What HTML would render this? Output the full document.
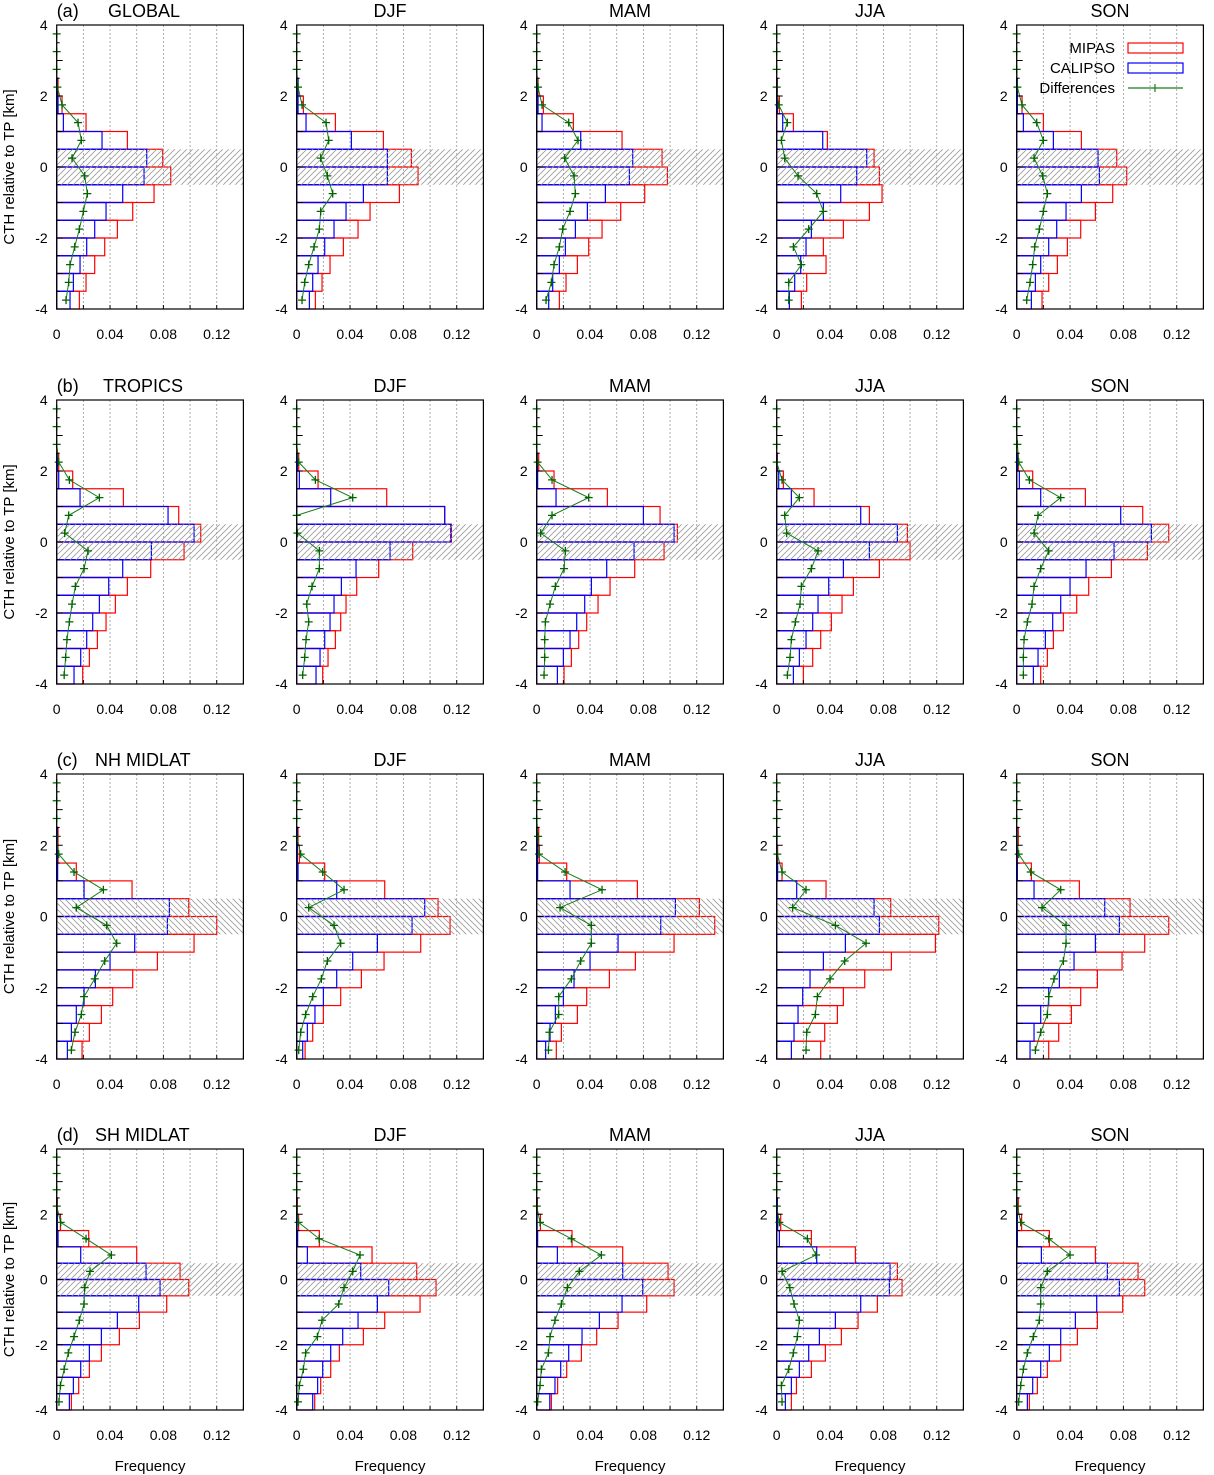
<!DOCTYPE html>
<html><head><meta charset="utf-8"><title>CTH histograms</title>
<style>
html,body{margin:0;padding:0;background:#fff;}
svg{display:block;font-family:"Liberation Sans",Arial,sans-serif;}
</style></head>
<body>
<svg id="fig" width="1214" height="1475" viewBox="0 0 1214 1475" xmlns="http://www.w3.org/2000/svg">
<defs>
<pattern id="hatchF" patternUnits="userSpaceOnUse" width="6" height="6"><path d="M-1,7 L7,-1 M-4,4 L4,-4 M2,10 L10,2" stroke="#9a9a9a" stroke-width="0.8"/></pattern>
<pattern id="hatchB" patternUnits="userSpaceOnUse" width="6" height="6"><path d="M-1,-1 L7,7 M-4,2 L2,8 M2,-4 L8,2" stroke="#9a9a9a" stroke-width="0.8"/></pattern>
</defs>
</svg>
<script>
// bins (lower edges, km), top bin first
const binLower = [2,1.5,1,0.5,0,-0.5,-1,-1.5,-2,-2.5,-3,-3.5,-4];
const diffHeights = [3.75,3.25,2.75,2.25,1.75,1.25,0.75,0.25,-0.25,-0.75,-1.25,-1.75,-2.25,-2.75,-3.25,-3.75];
const xTicks = [0,0.04,0.08,0.12];
const xTickLabels = ["0","0.04","0.08","0.12"];
const yTicks = [4,2,0,-2,-4];
const yTickLabels = ["4","2","0","-2","-4"];
const rowNames = ["GLOBAL","TROPICS","NH MIDLAT","SH MIDLAT"];
const rowLetters = ["(a)","(b)","(c)","(d)"];
const seasons = ["","DJF","MAM","JJA","SON"];

const mipas_r1c1 = [0.001,0.004,0.022,0.053,0.0795,0.0855,0.073,0.057,0.0455,0.036,0.0285,0.022,0.017];
const calipso_r1c1 = [0.0005,0.001,0.005,0.034,0.0675,0.0655,0.0495,0.037,0.0285,0.0225,0.0175,0.0125,0.010];
const diff_r1c1 = [0,0,0,0.0005,0.004,0.016,0.0185,0.0115,0.021,0.023,0.020,0.017,0.0135,0.010,0.009,0.007];
const mipas_r1c2 = [0.001,0.005,0.029,0.065,0.086,0.091,0.077,0.055,0.046,0.035,0.025,0.019,0.014];
const calipso_r1c2 = [0.001,0.001,0.007,0.041,0.068,0.068,0.050,0.037,0.028,0.021,0.016,0.012,0.0095];
const diff_r1c2 = [0,0,0,0.001,0.004,0.022,0.024,0.018,0.023,0.027,0.018,0.017,0.013,0.009,0.006,0.004];
const mipas_r1c3 = [0.001,0.005,0.0275,0.064,0.094,0.098,0.081,0.063,0.049,0.039,0.0305,0.022,0.017];
const calipso_r1c3 = [0.0005,0.001,0.004,0.033,0.072,0.0695,0.0515,0.038,0.029,0.0215,0.017,0.012,0.009];
const diff_r1c3 = [0,0,0,0.001,0.004,0.024,0.031,0.021,0.028,0.029,0.025,0.0195,0.017,0.013,0.011,0.007];
const mipas_r1c4 = [0.0005,0.002,0.0125,0.038,0.073,0.077,0.079,0.0695,0.050,0.035,0.037,0.0225,0.0185];
const calipso_r1c4 = [0.0003,0.0005,0.0045,0.0345,0.0675,0.060,0.048,0.035,0.026,0.022,0.018,0.0135,0.0095];
const diff_r1c4 = [0,0,0,0,0.0015,0.008,0.0035,0.006,0.016,0.030,0.035,0.024,0.0125,0.0185,0.009,0.009];
const mipas_r1c5 = [0.0005,0.004,0.020,0.0485,0.075,0.0825,0.072,0.059,0.048,0.038,0.0305,0.024,0.019];
const calipso_r1c5 = [0.0005,0.0005,0.005,0.0275,0.061,0.062,0.0485,0.037,0.030,0.024,0.018,0.014,0.011];
const diff_r1c5 = [0,0,0,0.0005,0.004,0.015,0.020,0.013,0.0195,0.023,0.020,0.017,0.0135,0.012,0.010,0.0075];

const mipas_r2c1 = [0.0015,0.012,0.050,0.0915,0.108,0.0955,0.0705,0.053,0.044,0.037,0.0305,0.0245,0.0195];
const calipso_r2c1 = [0.0005,0.0015,0.0175,0.0835,0.103,0.071,0.0495,0.039,0.032,0.027,0.0225,0.018,0.013];
const diff_r2c1 = [0,0,0,0.0015,0.0095,0.032,0.009,0.006,0.0235,0.0205,0.014,0.0115,0.0095,0.0077,0.0067,0.0056];
const mipas_r2c2 = [0.0015,0.016,0.0675,0.111,0.116,0.087,0.0615,0.045,0.037,0.033,0.029,0.0235,0.0195];
const calipso_r2c2 = [0.0005,0.002,0.0255,0.111,0.1155,0.070,0.0445,0.0335,0.028,0.025,0.021,0.0175,0.0145];
const diff_r2c2 = [0,0,0,0.0015,0.014,0.042,0,0.0005,0.017,0.017,0.0115,0.0075,0.009,0.007,0.006,0.0045];
const mipas_r2c3 = [0.0015,0.013,0.053,0.0925,0.1055,0.0955,0.0735,0.055,0.046,0.0375,0.0315,0.026,0.0205];
const calipso_r2c3 = [0.0005,0.0007,0.0145,0.080,0.103,0.073,0.0525,0.041,0.036,0.030,0.025,0.020,0.0155];
const diff_r2c3 = [0,0,0,0.0007,0.0115,0.039,0.0115,0.003,0.0215,0.0205,0.014,0.010,0.0065,0.006,0.006,0.0055];
const mipas_r2c4 = [0.0005,0.005,0.028,0.0695,0.098,0.100,0.077,0.0575,0.049,0.041,0.033,0.027,0.020];
const calipso_r2c4 = [0.0003,0.0015,0.011,0.063,0.0905,0.0695,0.050,0.039,0.031,0.027,0.022,0.017,0.0125];
const diff_r2c4 = [0,0,0,0,0.004,0.017,0.006,0.0075,0.031,0.026,0.0185,0.0175,0.014,0.011,0.010,0.008];
const mipas_r2c5 = [0.0012,0.012,0.0515,0.0945,0.114,0.098,0.071,0.054,0.045,0.035,0.0275,0.023,0.018];
const calipso_r2c5 = [0.0005,0.002,0.018,0.078,0.101,0.073,0.052,0.040,0.033,0.027,0.0215,0.016,0.0125];
const diff_r2c5 = [0,0,0.0005,0.0015,0.0095,0.033,0.016,0.013,0.024,0.018,0.013,0.0115,0.008,0.0055,0.005,0.005];

const mipas_r3c1 = [0.001,0.001,0.0147,0.0565,0.099,0.120,0.103,0.0755,0.057,0.042,0.0335,0.0245,0.019];
const calipso_r3c1 = [0.0005,0.0005,0.0007,0.0205,0.0845,0.083,0.0585,0.040,0.029,0.0205,0.0147,0.011,0.008];
const diff_r3c1 = [0,0,0,0,0.0015,0.013,0.035,0.0147,0.0375,0.045,0.036,0.0285,0.0205,0.0185,0.0137,0.011];
const mipas_r3c2 = [0.001,0.002,0.021,0.066,0.106,0.115,0.093,0.0655,0.0485,0.033,0.020,0.012,0.0063];
const calipso_r3c2 = [0.0005,0.0005,0.001,0.030,0.096,0.0865,0.0605,0.042,0.030,0.020,0.0137,0.008,0.0045];
const diff_r3c2 = [0,0,0,0,0.003,0.0195,0.0355,0.009,0.028,0.033,0.023,0.0185,0.012,0.0067,0.003,0.0015];
const mipas_r3c3 = [0.0015,0.002,0.0225,0.0755,0.122,0.1335,0.103,0.074,0.0545,0.0375,0.0305,0.0185,0.0147];
const calipso_r3c3 = [0.0005,0.0007,0.0007,0.025,0.104,0.093,0.061,0.040,0.028,0.020,0.014,0.010,0.0067];
const diff_r3c3 = [0,0,0,0.001,0.0017,0.0213,0.049,0.0175,0.041,0.041,0.033,0.026,0.0165,0.0165,0.0095,0.0088];
const mipas_r3c4 = [0,0.0007,0.004,0.037,0.0855,0.1215,0.119,0.086,0.066,0.050,0.0455,0.036,0.033];
const calipso_r3c4 = [0,0,0.0007,0.015,0.073,0.077,0.0515,0.035,0.025,0.0195,0.016,0.013,0.011];
const diff_r3c4 = [0,0,0,0,0.0005,0.004,0.022,0.012,0.044,0.067,0.051,0.040,0.0305,0.029,0.0225,0.022];
const mipas_r3c5 = [0.0012,0.0005,0.011,0.047,0.085,0.114,0.096,0.079,0.0605,0.048,0.041,0.0315,0.024];
const calipso_r3c5 = [0.0003,0.0003,0.0005,0.013,0.066,0.077,0.059,0.043,0.032,0.024,0.018,0.013,0.010];
const diff_r3c5 = [0,0,0,0,0.0015,0.0105,0.033,0.019,0.037,0.037,0.035,0.028,0.024,0.023,0.018,0.014];

const mipas_r4c1 = [0.0005,0.0028,0.024,0.060,0.0925,0.099,0.0825,0.062,0.047,0.0335,0.0245,0.0165,0.011];
const calipso_r4c1 = [0,0.0005,0.001,0.018,0.067,0.0775,0.0615,0.0455,0.0335,0.0245,0.018,0.0125,0.0095];
const diff_r4c1 = [0,0,0,0,0.003,0.022,0.041,0.025,0.021,0.0205,0.017,0.013,0.0087,0.0056,0.0028,0.0017];
const mipas_r4c2 = [0.0005,0.0014,0.017,0.0565,0.090,0.1045,0.0925,0.066,0.050,0.032,0.0255,0.018,0.0135];
const calipso_r4c2 = [0,0.0003,0.0007,0.008,0.048,0.069,0.0605,0.046,0.0345,0.0255,0.0195,0.0157,0.012];
const diff_r4c2 = [0,0,0,0,0.0014,0.0168,0.0475,0.042,0.0355,0.0315,0.019,0.0155,0.0067,0.005,0.002,0.001];
const mipas_r4c3 = [0.0005,0.0028,0.0265,0.0645,0.0985,0.103,0.0825,0.061,0.045,0.0335,0.0225,0.0157,0.011];
const calipso_r4c3 = [0,0.0003,0.0007,0.0155,0.0645,0.0795,0.064,0.047,0.034,0.024,0.018,0.0137,0.0098];
const diff_r4c3 = [0,0,0,0,0.0025,0.026,0.0485,0.032,0.023,0.0185,0.0137,0.010,0.0088,0.0035,0.0025,0.0007];
const mipas_r4c4 = [0.0005,0.003,0.026,0.059,0.0905,0.094,0.0755,0.061,0.0485,0.0365,0.026,0.0148,0.011];
const calipso_r4c4 = [0.0005,0.0007,0.002,0.030,0.085,0.0845,0.063,0.044,0.032,0.024,0.017,0.011,0.0065];
const diff_r4c4 = [0,0,0,0,0.002,0.023,0.0295,0.004,0.0098,0.013,0.017,0.0155,0.0125,0.009,0.0035,0.004];
const mipas_r4c5 = [0.0012,0.0037,0.0245,0.059,0.091,0.096,0.0795,0.0605,0.0455,0.033,0.023,0.0155,0.0095];
const calipso_r4c5 = [0.0003,0.0005,0.0005,0.0185,0.068,0.077,0.060,0.044,0.033,0.0245,0.018,0.012,0.008];
const diff_r4c5 = [0,0,0,0.0005,0.003,0.024,0.040,0.023,0.018,0.018,0.017,0.0125,0.008,0.005,0.003,0.0015];

const mipasAll = [[mipas_r1c1,mipas_r1c2,mipas_r1c3,mipas_r1c4,mipas_r1c5],[mipas_r2c1,mipas_r2c2,mipas_r2c3,mipas_r2c4,mipas_r2c5],[mipas_r3c1,mipas_r3c2,mipas_r3c3,mipas_r3c4,mipas_r3c5],[mipas_r4c1,mipas_r4c2,mipas_r4c3,mipas_r4c4,mipas_r4c5]];
const calipsoAll = [[calipso_r1c1,calipso_r1c2,calipso_r1c3,calipso_r1c4,calipso_r1c5],[calipso_r2c1,calipso_r2c2,calipso_r2c3,calipso_r2c4,calipso_r2c5],[calipso_r3c1,calipso_r3c2,calipso_r3c3,calipso_r3c4,calipso_r3c5],[calipso_r4c1,calipso_r4c2,calipso_r4c3,calipso_r4c4,calipso_r4c5]];
const diffAll = [[diff_r1c1,diff_r1c2,diff_r1c3,diff_r1c4,diff_r1c5],[diff_r2c1,diff_r2c2,diff_r2c3,diff_r2c4,diff_r2c5],[diff_r3c1,diff_r3c2,diff_r3c3,diff_r3c4,diff_r3c5],[diff_r4c1,diff_r4c2,diff_r4c3,diff_r4c4,diff_r4c5]];

// layout
const colX = [56.7,296.7,536.7,776.7,1016.7];
const panelW = 186.7;
const rowTop = [25,400,774,1149];
const rowBot = [309,684,1059,1410];
const XMAX = 0.14, YMIN = -4, YMAX = 4;

const svg = document.getElementById('fig');
const NS = 'http://www.w3.org/2000/svg';
function mk(tag, attrs, parent){
  const e = document.createElementNS(NS, tag);
  for (const k in attrs) e.setAttribute(k, attrs[k]);
  (parent||svg).appendChild(e);
  return e;
}

for (let r=0;r<4;r++){
  for (let c=0;c<5;c++){
    const x0 = colX[c], top = rowTop[r], bot = rowBot[r];
    const xs = v => x0 + v/XMAX*panelW;
    const ys = v => bot - (v-YMIN)/(YMAX-YMIN)*(bot-top);
    const g = mk('g', {});
    
    

    // grid
    for (let k=1;k<=6;k++){
      const gl = mk('line',{x1:xs(k*0.02),x2:xs(k*0.02),y1:top,y2:bot,stroke:'#999','stroke-width':0.8,'stroke-dasharray':'2,2'},g);
      
      
    }
    // MIPAS bars
    const mv = mipasAll[r][c], cv = calipsoAll[r][c], dv = diffAll[r][c];
    for (let i=0;i<binLower.length;i++){
      const y1 = ys(binLower[i]+0.5), y2 = ys(binLower[i]);
      const rb = mk('rect',{x:xs(0),y:y1,width:Math.max(0.3,xs(mv[i])-xs(0)),height:y2-y1,fill:'none',stroke:'#ff0000','stroke-width':1.2},g);
      
      
    }
    for (let i=0;i<binLower.length;i++){
      const y1 = ys(binLower[i]+0.5), y2 = ys(binLower[i]);
      const bb = mk('rect',{x:xs(0),y:y1,width:Math.max(0.3,xs(cv[i])-xs(0)),height:y2-y1,fill:'none',stroke:'#0000ff','stroke-width':1.2},g);
      
      
    }
    // hatch (tropopause region)
    const ht = mk('rect',{x:xs(0),y:ys(0.5),width:panelW,height:ys(-0.5)-ys(0.5),fill:(r===2?'url(#hatchB)':'url(#hatchF)')},g);
    
    
    // differences line
    const pts = diffHeights.map((h,i)=>xs(dv[i]).toFixed(2)+','+ys(h).toFixed(2)).join(' ');
    const pl = mk('polyline',{points:pts,fill:'none',stroke:'#1a7a1a','stroke-width':1},g);
    
    
    for (let i=0;i<diffHeights.length;i++){
      const px = xs(dv[i]), py = ys(diffHeights[i]);
      const mkp = mk('path',{d:`M${px-4},${py}H${px+4}M${px},${py-4}V${py+4}`,stroke:'#006400','stroke-width':1.3,fill:'none'},g);
      
      
    }
    // frame
    const fr = mk('rect',{x:x0,y:top,width:panelW,height:bot-top,fill:'none',stroke:'#000','stroke-width':1.2},g);
    
    
    // y ticks
    for (let k=0;k<=16;k++){
      const v = -4 + k*0.5; const len = (k%2===0)?6:3;
      const t = mk('line',{x1:x0,x2:x0+len,y1:ys(v),y2:ys(v),stroke:'#000','stroke-width':1},g);
      
      
    }
    for (let k=0;k<yTicks.length;k++){
      const tl = mk('text',{x:x0-9,y:ys(yTicks[k])+5,'text-anchor':'end','font-size':14,fill:'#000'},g);
      tl.textContent = yTickLabels[k];
      
      
    }
    // x ticks
    for (let k=0;k<=7;k++){
      const v = k*0.02;
      const t = mk('line',{x1:xs(v),x2:xs(v),y1:bot,y2:bot-4,stroke:'#000','stroke-width':1},g);
      
      
    }
    for (let k=0;k<xTicks.length;k++){
      const tl = mk('text',{x:xs(xTicks[k]),y:bot+30,'text-anchor':'middle','font-size':14,fill:'#000'},g);
      tl.textContent = xTickLabels[k];
      
      
    }
    // titles
    if (c===0){
      const la = mk('text',{x:x0,y:top-8,'font-size':18,fill:'#000'},g);
      la.textContent = rowLetters[r];
      
      
      const nameX = (r<2)? (r===0?108:103) : 95;
      const nm = mk('text',{x:nameX,y:top-8,'font-size':18,fill:'#000'},g);
      nm.textContent = rowNames[r];
      
      
      const yt = mk('text',{x:0,y:0,'text-anchor':'middle','font-size':15,fill:'#000',transform:`translate(14,${(top+bot)/2}) rotate(-90)`},g);
      yt.textContent = 'CTH relative to TP [km]';
      
      
    } else {
      const st = mk('text',{x:x0+panelW/2,y:top-8,'text-anchor':'middle','font-size':18,fill:'#000'},g);
      st.textContent = seasons[c];
      
      
    }
    if (r===3){
      const xt = mk('text',{x:x0+panelW/2,y:1471,'text-anchor':'middle','font-size':15,fill:'#000'},g);
      xt.textContent = 'Frequency';
      
      
    }
  }
}

// legend
const lg = mk('g',{});


const legNames = ['MIPAS','CALIPSO','Differences'];
const legColors = ['#ff0000','#0000ff','#1a7a1a'];
for (let i=0;i<3;i++){
  const cy = 48 + i*20;
  const t = mk('text',{x:1115,y:cy+5,'text-anchor':'end','font-size':15,fill:'#000'},lg);
  t.textContent = legNames[i];
  
  
  if (i<2){
    const b = mk('rect',{x:1128,y:cy-5,width:55,height:10,fill:'none',stroke:legColors[i],'stroke-width':1.2},lg);
    
    
  } else {
    const l = mk('path',{d:`M1128,${cy}H1183M1155,${cy-4}V${cy+4}`,stroke:'#1a7a1a','stroke-width':1.2,fill:'none'},lg);
    
    
  }
}
</script>
</body></html>
